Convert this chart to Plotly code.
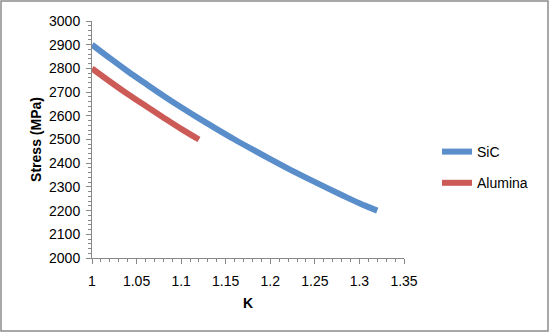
import plotly.graph_objects as go

# Data
k_sic = [1.00, 1.02, 1.04, 1.06, 1.08, 1.10, 1.12, 1.14, 1.16, 1.18, 1.20, 1.22, 1.24, 1.26, 1.28, 1.30, 1.32]
stress_sic = [2900, 2843, 2788, 2736, 2685, 2636, 2589, 2544, 2500, 2458, 2417, 2377, 2339, 2302, 2266, 2231, 2200]

k_alumina = [1.00, 1.02, 1.04, 1.06, 1.08, 1.10, 1.12]
stress_alumina = [2800, 2745, 2692, 2642, 2593, 2545, 2500]

W, H = 550, 333
ml, mr, mt, mb = 92, 146, 21, 75
pw, ph = W - ml - mr, H - mt - mb

font = "Liberation Sans, Arial, sans-serif"

fig = go.Figure()
fig.add_trace(go.Scatter(x=k_sic, y=stress_sic, mode="lines", name="SiC",
                         legendgroup="a",
                         line=dict(color="#5A8ECB", width=6, shape="spline")))
fig.add_trace(go.Scatter(x=k_alumina, y=stress_alumina, mode="lines", name="Alumina",
                         legendgroup="b",
                         line=dict(color="#CC5A56", width=6, shape="spline")))

axis_common = dict(showgrid=False, zeroline=False, showline=True,
                   linecolor="#888888", linewidth=1, ticks="outside",
                   tickcolor="#888888", ticklen=5,
                   tickfont=dict(family=font, size=14, color="#000000"))

fig.update_xaxes(range=[1, 1.35], dtick=0.05, tick0=1,
                 minor=dict(dtick=0.01, ticks="outside", ticklen=3, tickcolor="#888888"),
                 ticklabelstandoff=5,
                 title=dict(text="<b>K</b>", font=dict(family=font, size=14, color="#000"),
                            standoff=10),
                 **axis_common)
fig.update_yaxes(range=[2000, 3000], dtick=100, tick0=2000,
                 minor=dict(dtick=20, ticks="outside", ticklen=3, tickcolor="#888888"),
                 ticklabelstandoff=3,
                 title=dict(text="<b>Stress (MPa)</b>", font=dict(family=font, size=14, color="#000"),
                            standoff=4),
                 **axis_common)

# outer border
x0 = (1 - ml) / pw
x1 = (W - 2 - ml) / pw
y0 = -(mb - 2) / ph
y1 = 1 + (mt - 1) / ph
fig.add_shape(type="rect", xref="paper", yref="paper", x0=x0, x1=x1, y0=y0, y1=y1,
              line=dict(color="#8C8C8C", width=1.5), layer="below")

fig.update_layout(
    width=W, height=H,
    margin=dict(l=ml, r=mr, t=mt, b=mb),
    paper_bgcolor="white", plot_bgcolor="white",
    showlegend=True,
    legend=dict(x=(437 - ml) / pw, y=(H - mb - 136) / ph, xanchor="left", yanchor="top",
                font=dict(family=font, size=14, color="#000"),
                tracegroupgap=10, itemwidth=30, bgcolor="rgba(0,0,0,0)"),
)

fig.write_html("out.html", config={"displayModeBar": False},
               post_script="document.body.style.margin='0';document.body.style.padding='0';")
